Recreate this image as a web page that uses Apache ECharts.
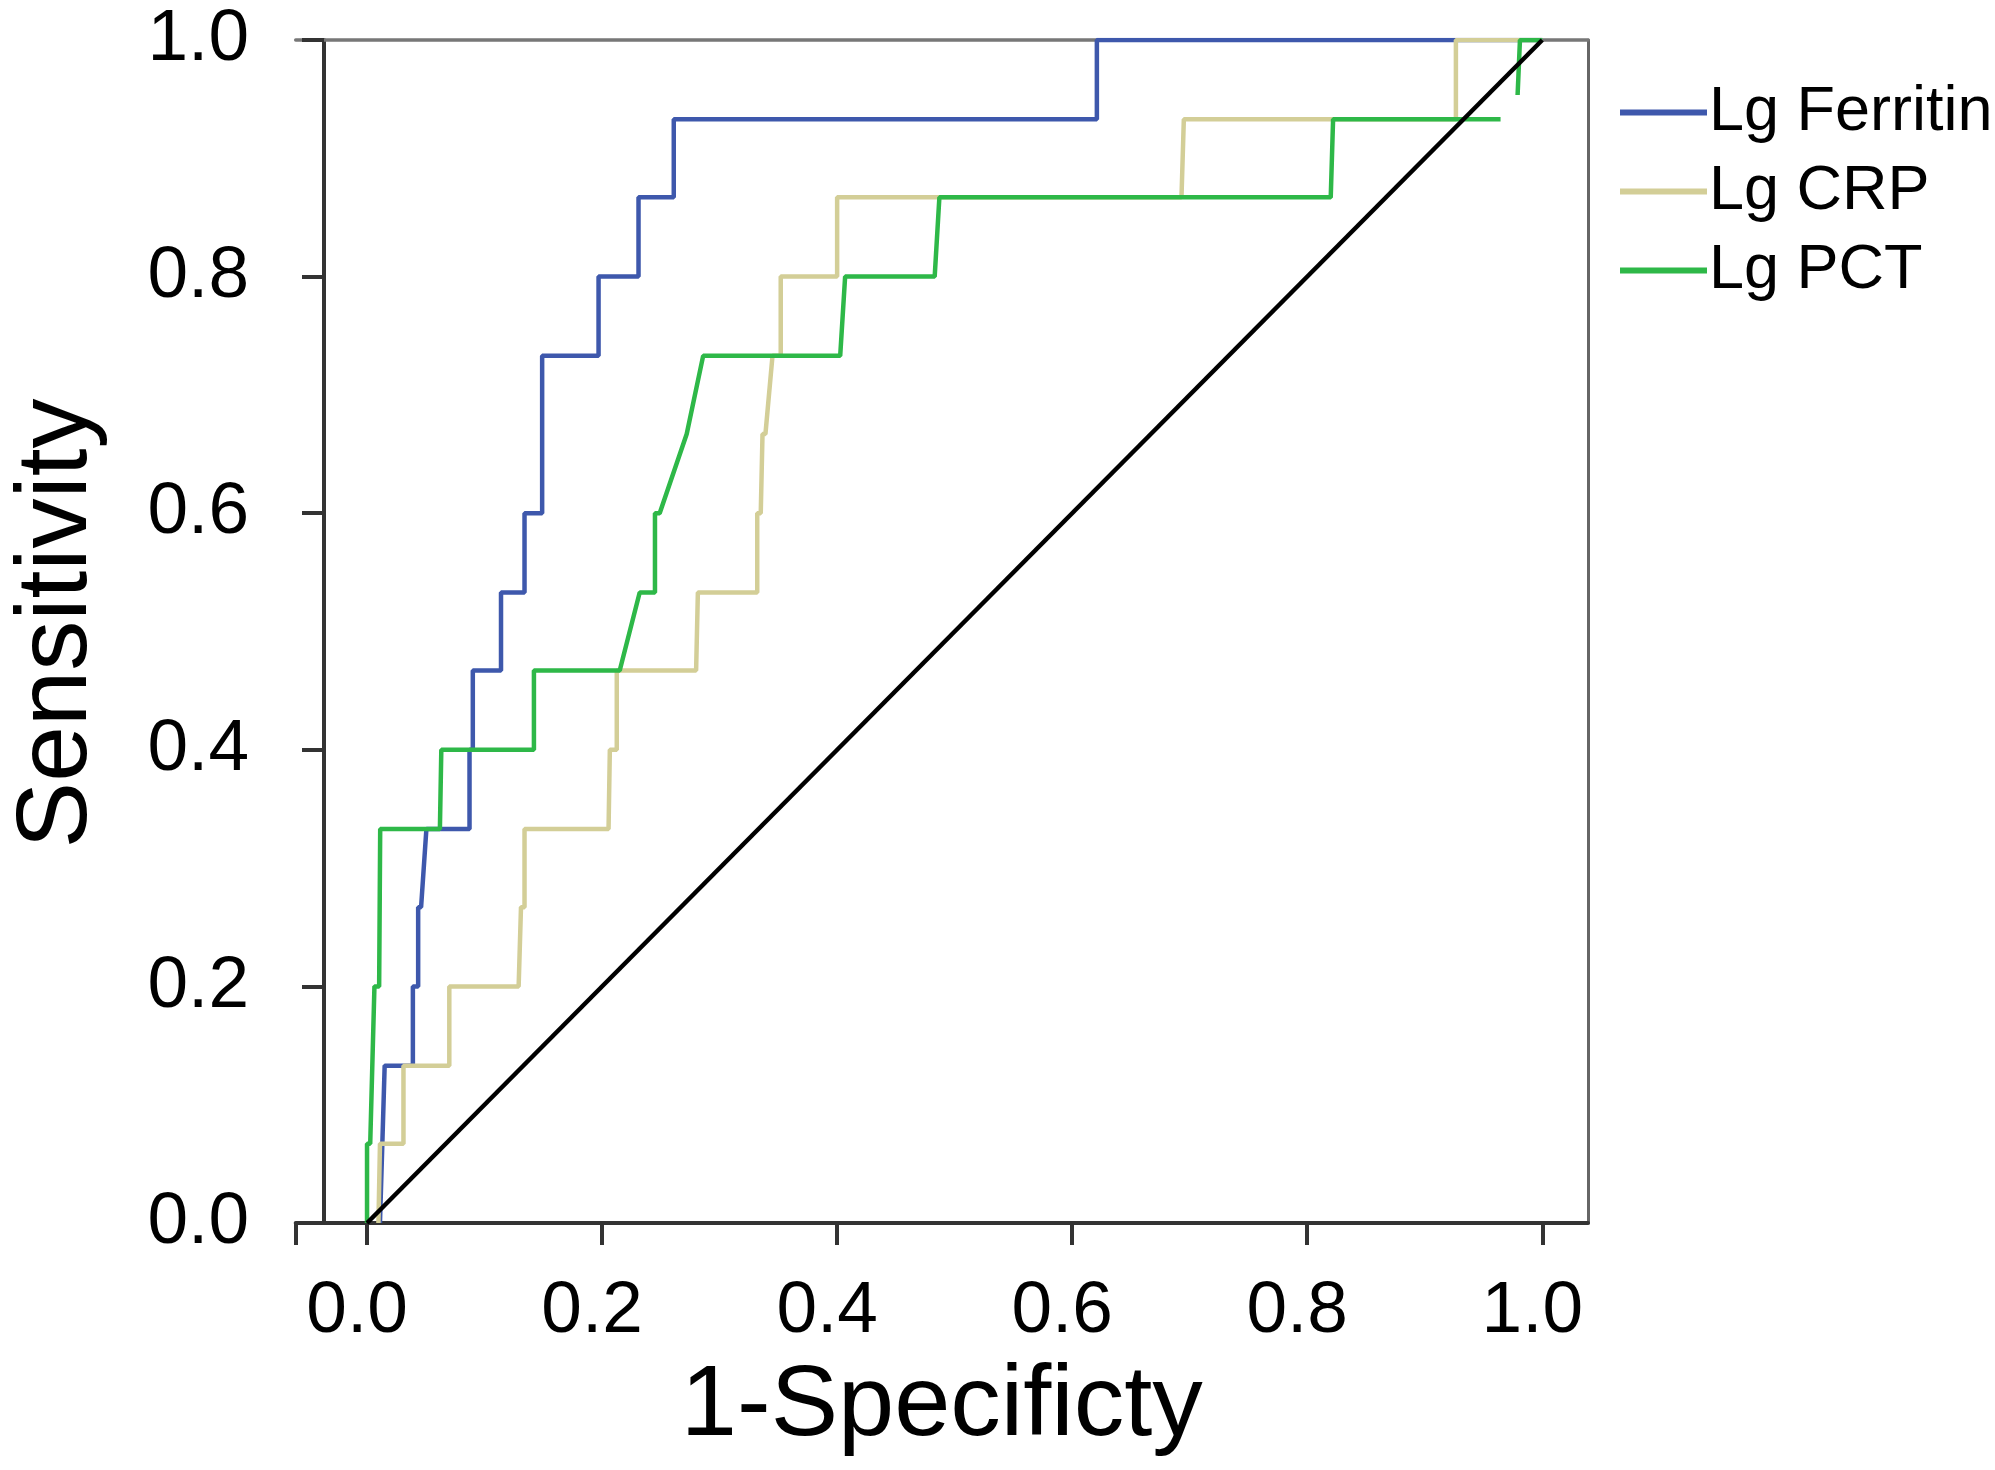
<!DOCTYPE html>
<html>
<head>
<meta charset="utf-8">
<script src="https://cdn.jsdelivr.net/npm/echarts@6/dist/echarts.min.js"></script>
<style>
html,body{margin:0;padding:0;background:#fff;}
#chart{width:1995px;height:1470px;}
</style>
</head>
<body>
<div id="chart"></div>
<script>
// ---- data ----
var seriesNames = ['Lg Ferritin', 'Lg CRP', 'Lg PCT'];
var seriesColors = ['#3E58AC', '#D3CE97', '#2EB848'];

var ferritinX = [0.011, 0.015, 0.039, 0.039, 0.0435, 0.0435, 0.046, 0.0505, 0.0872, 0.0872, 0.090, 0.090, 0.114, 0.114, 0.134, 0.134, 0.149, 0.149, 0.197, 0.197, 0.231, 0.231, 0.261, 0.261, 0.621, 0.621, 1.0];
var ferritinY = [0.0, 0.133, 0.133, 0.2, 0.2, 0.267, 0.267, 0.333, 0.333, 0.4, 0.4, 0.467, 0.467, 0.533, 0.533, 0.6, 0.6, 0.733, 0.733, 0.8, 0.8, 0.867, 0.867, 0.933, 0.933, 1.0, 1.0];

var crpX = [0.0097, 0.011, 0.031, 0.031, 0.070, 0.070, 0.129, 0.131, 0.134, 0.134, 0.2055, 0.2066, 0.2125, 0.2125, 0.280, 0.2815, 0.332, 0.332, 0.335, 0.3365, 0.339, 0.345, 0.352, 0.352, 0.400, 0.400, 0.693, 0.695, 0.9265, 0.9265, 1.0];
var crpY = [0.0, 0.067, 0.067, 0.133, 0.133, 0.2, 0.2, 0.267, 0.267, 0.333, 0.333, 0.4, 0.4, 0.467, 0.467, 0.533, 0.533, 0.6, 0.6, 0.667, 0.667, 0.733, 0.733, 0.8, 0.8, 0.867, 0.867, 0.933, 0.933, 1.0, 1.0];

// null marks the break visible near the top right of the PCT curve
var pctX = [0.0, 0.0, 0.0027, 0.0063, 0.0103, 0.0112, 0.062, 0.0632, 0.142, 0.142, 0.215, 0.232, 0.245, 0.245, 0.249, 0.272, 0.286, 0.4026, 0.4068, 0.483, 0.487, 0.820, 0.822, 0.9645, null, 0.979, 0.981, 1.0];
var pctY = [0.0, 0.067, 0.067, 0.2, 0.2, 0.333, 0.333, 0.4, 0.4, 0.467, 0.467, 0.533, 0.533, 0.6, 0.6, 0.667, 0.733, 0.733, 0.8, 0.8, 0.867, 0.867, 0.933, 0.933, null, 0.9535, 1.0, 1.0];

var refX = [0, 1];
var refY = [0, 1];

var xTickValues = [-0.0607, 0, 0.2, 0.4, 0.6, 0.8, 1.0];
var xLabelValues = [0, 0.2, 0.4, 0.6, 0.8, 1.0];
var xTitle = '1-Specificty';
var yTitle = 'Sensitivity';

function pairs(xs, ys) {
  var out = [];
  for (var i = 0; i < xs.length; i++) {
    if (xs[i] === null || ys[i] === null) out.push(['-', '-']);
    else out.push([xs[i], ys[i]]);
  }
  return out;
}

var FONT = '"Liberation Sans", Arial, sans-serif';
var chart = echarts.init(document.getElementById('chart'), null, {renderer: 'canvas'});

var curveData = [pairs(ferritinX, ferritinY), pairs(crpX, crpY), pairs(pctX, pctY)];
var series = [];
for (var s = 0; s < 3; s++) {
  series.push({
    name: seriesNames[s],
    type: 'line',
    data: curveData[s],
    symbol: 'none',
    showSymbol: false,
    connectNulls: false,
    color: seriesColors[s],
    lineStyle: {color: seriesColors[s], width: 4.5},
    z: 3 + s,
    animation: false
  });
}
series.push({
  name: 'Reference',
  type: 'line',
  data: pairs(refX, refY),
  symbol: 'none',
  showSymbol: false,
  lineStyle: {color: '#000', width: 4.5},
  z: 10,
  animation: false
});

var option = {
  backgroundColor: '#fff',
  animation: false,
  textStyle: {fontFamily: FONT},
  grid: {left: 286.7, right: 407, top: 40, bottom: 247, containLabel: false},
  legend: {
    data: seriesNames,
    orient: 'vertical',
    left: 1615,
    top: 76,
    itemWidth: 87,
    itemHeight: 6,
    itemGap: 16,
    icon: 'rect',
    itemStyle: {borderWidth: 0},
    textStyle: {fontSize: 63, color: '#000', fontFamily: FONT, padding: [0, 0, 0, -3]},
    selectedMode: false
  },
  xAxis: [{
    type: 'value',
    min: -0.0607,
    max: 1.0389,
    position: 'bottom',
    axisLine: {show: true, onZero: false, lineStyle: {color: '#333', width: 4}},
    axisTick: {show: true, length: 22, lineStyle: {color: '#333', width: 4}, customValues: xTickValues},
    axisLabel: {
      show: true, customValues: xLabelValues, margin: 52, fontSize: 73, color: '#000',
      fontFamily: FONT, padding: [0, 20, 0, 0],
      formatter: function (v) { return Number(v).toFixed(1); }
    },
    splitLine: {show: false},
    name: xTitle,
    nameLocation: 'middle',
    nameGap: 134,
    nameTextStyle: {fontSize: 101, color: '#000', fontFamily: FONT}
  }, {
    type: 'value',
    min: -0.0607,
    max: 1.0389,
    position: 'top',
    axisLine: {show: true, onZero: false, lineStyle: {color: '#777', width: 3.5}},
    axisTick: {show: false},
    axisLabel: {show: false},
    splitLine: {show: false}
  }],
  yAxis: [{
    type: 'value',
    min: 0,
    max: 1,
    interval: 0.2,
    position: 'left',
    offset: -28.3,
    axisLine: {show: true, onZero: false, lineStyle: {color: '#333', width: 4}},
    axisTick: {show: true, length: 22, lineStyle: {color: '#333', width: 4}},
    axisLabel: {
      show: true, margin: 75, fontSize: 73, color: '#000', fontFamily: FONT,
      formatter: function (v) { return Number(v).toFixed(1); }
    },
    splitLine: {show: false},
    name: yTitle,
    nameLocation: 'middle',
    nameRotate: 90,
    nameGap: 216,
    nameTextStyle: {fontSize: 100, color: '#000', fontFamily: FONT, padding: [0, 0, 0, 16]}
  }, {
    type: 'value',
    min: 0,
    max: 1,
    position: 'right',
    axisLine: {show: true, onZero: false, lineStyle: {color: '#666', width: 3}},
    axisTick: {show: false},
    axisLabel: {show: false},
    splitLine: {show: false}
  }],
  series: series
};
chart.setOption(option);
</script>
</body>
</html>
